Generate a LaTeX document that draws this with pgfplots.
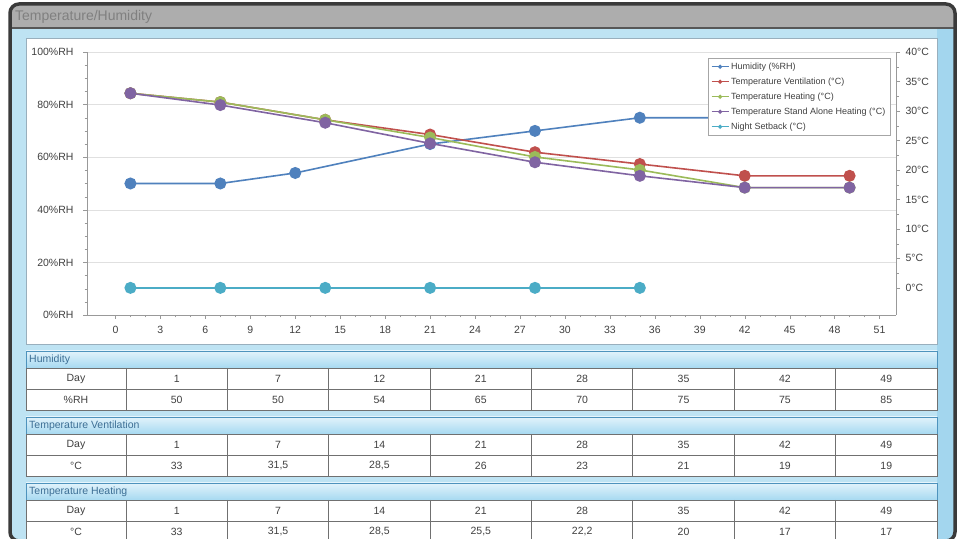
\documentclass[border=0pt]{standalone}
\usepackage{pgfplots}
\pgfplotsset{compat=1.18}
\usepackage{fontspec}
\setmainfont{Liberation Sans}
\definecolor{hum}{HTML}{4F81BD}
\definecolor{vent}{HTML}{C0504D}
\definecolor{heat}{HTML}{9BBB59}
\definecolor{stand}{HTML}{8064A2}
\definecolor{night}{HTML}{4BACC6}
\definecolor{bgblue}{HTML}{BEE3F3}
\definecolor{strip}{HTML}{A3D6EE}
\definecolor{hdrtop}{HTML}{E2F3FB}
\definecolor{hdrbot}{HTML}{A6D9F1}
\definecolor{hdrline}{HTML}{4E93BD}
\definecolor{hdrtext}{HTML}{3D6F95}
\definecolor{tabline}{HTML}{707070}
\definecolor{txt}{HTML}{404040}
\definecolor{frame}{HTML}{3A3A3A}
\definecolor{titlebar}{HTML}{ADADAD}
\newcommand{\tabfont}{\fontsize{10.5bp}{12bp}\selectfont}
\newcommand{\sectab}[4]{%
  \fill[white] (26,#1-17) rectangle (937,#1-59);
  \shade[top color=hdrtop,bottom color=hdrbot] (26,#1) rectangle (937,#1-17);
  \draw[hdrline,line width=0.9bp] (26,#1) rectangle (937,#1-17);
  \node[anchor=west,text=hdrtext,font=\tabfont,inner sep=0pt] at (29,#1-8.5) {#2};
  \draw[tabline,line width=0.8bp] (26,#1-17) rectangle (937,#1-59);
  \draw[tabline,line width=0.8bp] (26,#1-38) -- (937,#1-38);
  \foreach \kk in {0,...,7} {\draw[tabline,line width=0.8bp] ({126+\kk*101.375},#1-17) -- ({126+\kk*101.375},#1-59);}
  \node[text=txt,font=\tabfont] at (76,#1-27.5) {Day};
  \node[text=txt,font=\tabfont] at (76,#1-48.5) {#3};
  \foreach \dd/\vv [count=\ii] in {#4} {
    \node[text=txt,font=\tabfont] at ({126+(\ii-0.5)*101.375},#1-27.5) {\dd};
    \node[text=txt,font=\tabfont] at ({126+(\ii-0.5)*101.375},#1-48.5) {\vv};
  }%
}
\begin{document}
\begin{tikzpicture}[x=1bp,y=1bp]
\useasboundingbox (0,0) rectangle (962,539);
\fill[white] (0,0) rectangle (962,539);
\begin{scope}
  \clip[rounded corners=9bp] (10,-2) rectangle (955,535);
  \fill[bgblue] (10,-2) rectangle (955,535);
  \fill[titlebar] (10,511) rectangle (955,535);
  \fill[strip] (937,-2) rectangle (955,511);
\end{scope}
\draw[frame!85,line width=1.2bp] (11,511) -- (954,511);
\draw[frame,line width=3.5bp,rounded corners=9bp] (10,-2) rectangle (955,535);
\node[anchor=west,text=black!50,font=\fontsize{14bp}{16bp}\selectfont,inner sep=0pt] at (15,522) {Temperature/Humidity};
% white chart panel
\fill[white] (26,501) rectangle (937,195);
\draw[black!35!hdrline!50,line width=0.8bp] (26,501) rectangle (937,195);

\begin{axis}[
  at={(87bp,224bp)}, anchor=south west, scale only axis,
  width=809bp, height=263bp,
  xmin=-1.9, xmax=52.1, ymin=0, ymax=100,
  axis x line*=bottom, axis y line*=left,
  axis line style={draw=black!40,-},
  xtick={0,3,...,51}, minor x tick num=2,
  ytick={0,20,...,100}, minor y tick num=3,
  yticklabel={\pgfmathprintnumber{\tick}\%RH},
  yticklabel style={xshift=-6bp},
  xticklabel style={yshift=-4bp},
  ymajorgrids, major grid style={draw=black!12},
  tick align=outside, major tick length=4bp, minor tick length=2.5bp,
  tick style={draw=black!40},
  ticklabel style={font=\fontsize{10.5bp}{12bp}\selectfont, text=txt},
  /pgf/number format/assume math mode=true,
  clip=false,
]
\addplot[hum, line width=1.6bp, mark=*, mark size=5.2bp] coordinates {(1,50)(7,50)(12,54)(21,65)(28,70)(35,75)(42,75)(49,85)};
\end{axis}

\begin{axis}[
  at={(87bp,224bp)}, anchor=south west, scale only axis,
  width=809bp, height=263bp,
  xmin=-1.9, xmax=52.1, ymin=-4.6, ymax=40,
  axis x line=none, axis y line*=right,
  axis line style={draw=black!40,-},
  ytick={0,5,...,40}, minor y tick num=1,
  yticklabel={\pgfmathprintnumber{\tick}°C},
  yticklabel style={xshift=2bp},
  tick align=outside, major tick length=4bp, minor tick length=2.5bp,
  tick style={draw=black!40},
  ticklabel style={font=\fontsize{10.5bp}{12bp}\selectfont, text=txt},
  /pgf/number format/assume math mode=true,
  clip=false,
  legend style={at={(0.9926,0.977)}, anchor=north east, draw=black!35, fill=white,
    font=\fontsize{9bp}{10bp}\selectfont, text=txt, row sep=3bp, inner sep=2.5bp},
  legend cell align=left,
  legend image post style={mark size=1.6bp, line width=1bp},
]
\addlegendimage{hum, line width=1.6bp, mark=*}
\addlegendentry{Humidity (\%RH)}
\addplot[vent, line width=1.6bp, mark=*, mark size=5.2bp] coordinates {(1,33)(7,31.5)(14,28.5)(21,26)(28,23)(35,21)(42,19)(49,19)};
\addlegendentry{Temperature Ventilation (°C)}
\addplot[heat, line width=1.6bp, mark=*, mark size=5.2bp] coordinates {(1,33)(7,31.5)(14,28.5)(21,25.5)(28,22.2)(35,20)(42,17)(49,17)};
\addlegendentry{Temperature Heating (°C)}
\addplot[stand, line width=1.6bp, mark=*, mark size=5.2bp] coordinates {(1,33)(7,31)(14,28)(21,24.5)(28,21.3)(35,19)(42,17)(49,17)};
\addlegendentry{Temperature Stand Alone Heating (°C)}
\addplot[night, line width=1.6bp, mark=*, mark size=5.2bp] coordinates {(1,0)(7,0)(14,0)(21,0)(28,0)(35,0)};
\addlegendentry{Night Setback (°C)}
\end{axis}

\sectab{188}{Humidity}{\%RH}{1/50,7/50,12/54,21/65,28/70,35/75,42/75,49/85}
\sectab{122}{Temperature Ventilation}{°C}{1/33,7/{31,5},14/{28,5},21/26,28/23,35/21,42/19,49/19}
\sectab{56}{Temperature Heating}{°C}{1/33,7/{31,5},14/{28,5},21/{25,5},28/{22,2},35/20,42/17,49/17}
\end{tikzpicture}
\end{document}
